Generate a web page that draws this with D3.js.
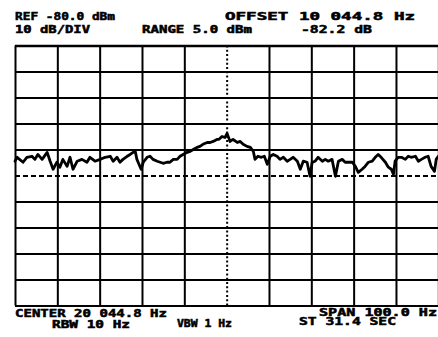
<!DOCTYPE html>
<html><head><meta charset="utf-8">
<script src="https://cdn.jsdelivr.net/npm/d3@7"></script>
<style>
html,body{margin:0;padding:0;background:#fff;}
svg{display:block;}
text{font-family:"DejaVu Sans Mono",monospace;font-weight:bold;fill:#000;stroke:#000;stroke-width:0.5;}
</style></head><body>
<svg id="c" width="438" height="337"></svg>
<script>
// ---- data ----
const freqOffsetHz = [-50.0,-49.5,-48.1,-47.2,-46.0,-45.3,-44.6,-43.6,-42.4,-41.7,-41.0,-40.1,-39.4,-38.7,-37.7,-37.0,-36.3,-35.3,-34.2,-33.0,-32.3,-31.1,-29.9,-28.7,-27.5,-26.8,-25.9,-25.2,-24.5,-23.5,-22.8,-22.1,-21.6,-21.2,-20.2,-19.7,-18.8,-18.1,-17.4,-16.4,-15.7,-15.0,-14.1,-13.4,-12.6,-11.7,-11.0,-10.3,-9.3,-8.6,-7.9,-7.0,-6.3,-5.6,-4.6,-3.9,-3.2,-2.2,-1.8,-1.1,-0.4,0.1,0.8,1.5,2.5,3.2,3.9,4.8,5.6,6.3,6.7,7.4,8.2,8.9,9.6,10.3,11.0,11.9,12.6,13.4,14.3,15.0,15.7,16.7,17.4,18.1,19.0,19.7,20.2,20.9,21.6,22.6,23.3,24.0,24.9,25.7,26.4,27.3,28.0,28.7,29.7,30.4,31.1,32.0,32.7,33.5,34.4,35.1,35.8,36.5,37.5,38.2,38.9,39.4,39.8,40.5,41.3,42.2,42.9,43.6,44.6,45.3,46.0,46.9,47.6,48.3,49.1,49.5,50.0];
const levelDbm = [-124.5,-123.0,-124.9,-123.0,-122.6,-123.8,-121.9,-123.8,-121.1,-124.5,-127.6,-124.9,-126.8,-123.8,-126.5,-123.0,-127.6,-124.5,-123.8,-124.9,-123.0,-124.5,-123.8,-123.0,-122.6,-124.5,-123.0,-124.9,-123.8,-122.6,-121.9,-121.1,-120.7,-123.8,-127.6,-124.9,-123.0,-122.6,-123.8,-124.5,-124.9,-125.3,-124.9,-124.9,-123.8,-123.8,-122.6,-121.9,-121.1,-120.7,-120.0,-119.2,-118.8,-118.0,-117.3,-117.3,-116.9,-116.1,-116.1,-115.0,-115.4,-113.8,-116.9,-116.1,-117.3,-116.9,-118.0,-118.8,-119.2,-120.7,-123.8,-122.6,-123.0,-122.6,-125.7,-122.6,-121.9,-122.6,-123.8,-123.0,-124.5,-123.8,-123.0,-124.5,-127.6,-124.5,-124.9,-130.3,-124.9,-124.5,-123.0,-124.5,-123.8,-124.5,-123.8,-130.3,-124.5,-123.8,-124.9,-124.9,-124.9,-126.5,-128.8,-127.6,-126.5,-124.9,-124.5,-123.0,-121.9,-123.0,-124.9,-126.8,-127.6,-129.5,-124.5,-123.0,-123.0,-123.8,-122.6,-123.0,-122.6,-124.5,-123.8,-123.0,-122.6,-126.5,-128.4,-123.8,-122.6];
const xGridHz = [-50,-40,-30,-20,-10,0,10,20,30,40,50];
const yGridDbm = [-80,-90,-100,-110,-120,-130,-140,-150,-160,-170,-180];
const headerLabels = ["REF -80.0 dBm","OFFSET 10 044.8 Hz","10 dB/DIV","RANGE 5.0 dBm","-82.2 dB"];
const footerLabels = ["CENTER 20 044.8 Hz","SPAN 100.0 Hz","RBW 10 Hz","VBW 1 Hz","ST 31.4 SEC"];

// ---- layout ----
const L = 15, R = 438.3, T = 45.5, B = 305.5;
const x = d3.scaleLinear().domain([-50, 50]).range([L, R]);
const y = d3.scaleLinear().domain([-180, -80]).range([B, T]);
const svg = d3.select("#c");
svg.append("rect").attr("width",438).attr("height",337).attr("fill","#fff");

// horizontal grid
const gy = svg.append("g").attr("transform", `translate(${L},0)`)
  .call(d3.axisLeft(y).tickValues(yGridDbm).tickSize(-(R - L)).tickFormat(""));
gy.select(".domain").remove();
gy.selectAll(".tick line")
  .attr("stroke","#000")
  .attr("stroke-width", d => d === -80 ? 2.6 : 2)
  .attr("stroke-dasharray", d => d === -130 ? "5,3" : null);

// vertical grid
const gx = svg.append("g").attr("transform", `translate(0,${B})`)
  .call(d3.axisBottom(x).tickValues(xGridHz).tickSize(-(B - T)).tickFormat(""));
gx.select(".domain").remove();
gx.selectAll(".tick line")
  .attr("stroke","#000")
  .attr("stroke-width", 2)
  .attr("stroke-dasharray", d => d === 0 ? "2,2.3" : null);

// trace
const pts = freqOffsetHz.map((f, i) => [f, levelDbm[i]]);
svg.append("path")
  .datum(pts)
  .attr("fill","none")
  .attr("stroke","#000")
  .attr("stroke-width",2.8)
  .attr("stroke-linejoin","round")
  .attr("stroke-linecap","round")
  .attr("d", d3.line().x(d => x(d[0])).y(d => y(d[1])));

// text
const hPos = [[15,19.5,100],[225,19.5,190],[15,33,75],[142,33,110],[301,33,71]];
const fPos = [[15,317,152],[319,315.5,118],[52,328,78],[177,327,55],[299,325,97]];
function put(labels, pos){
  labels.forEach((t,i)=>{
    svg.append("text")
      .attr("x",pos[i][0]).attr("y",pos[i][1])
      .attr("font-size",10)
      .attr("textLength",pos[i][2])
      .attr("lengthAdjust","spacingAndGlyphs")
      .text(t);
  });
}
put(headerLabels, hPos);
put(footerLabels, fPos);
</script>
</body></html>
